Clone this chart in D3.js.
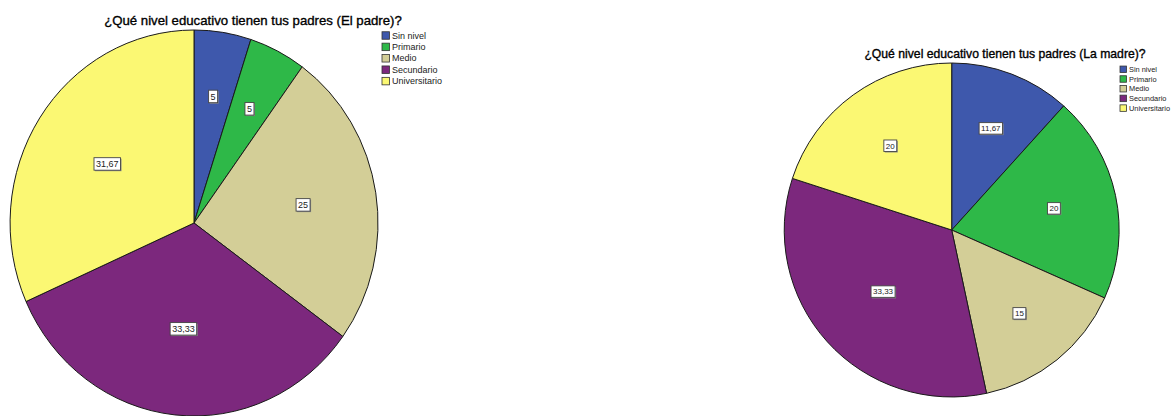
<!DOCTYPE html>
<html>
<head>
<meta charset="utf-8">
<script src="https://cdn.jsdelivr.net/npm/d3@7"></script>
<style>
  html, body { margin: 0; padding: 0; background: #fff; }
  svg { display: block; }
  text { font-family: "Liberation Sans", Arial, sans-serif; }
</style>
</head>
<body>
<svg id="chart" width="1172" height="416"></svg>
<script>
// ---- data ----
const categories = ["Sin nivel", "Primario", "Medio", "Secundario", "Universitario"];
const padreValues = [5, 5, 25, 33.33, 31.67];
const madreValues = [11.67, 20, 15, 33.33, 20];
const sliceColors = ["#3E58AC", "#2EB848", "#D3CE97", "#7C287D", "#FBF873"];
const padreTitle = "¿Qué nivel educativo tienen tus padres (El padre)?";
const madreTitle = "¿Qué nivel educativo tienen tus padres (La madre)?";

const locale = d3.formatLocale({decimal: ",", thousands: ".", grouping: [3], currency: ["", "€"]});
const fmt = locale.format(".4~g");
const color = d3.scaleOrdinal().domain(categories).range(sliceColors);

const svg = d3.select("#chart");
svg.append("rect").attr("width", 1172).attr("height", 416).attr("fill", "#fff");

function drawPie(cfg) {
  const data = categories.map((c, i) => ({cat: c, value: cfg.values[i]}));
  const pie = d3.pie().sort(null).value(d => d.value);
  const arcs = pie(data);
  const arc = d3.arc().innerRadius(0).outerRadius(1);

  const g = svg.append("g");
  // title
  g.append("text")
    .attr("x", cfg.titleX).attr("y", cfg.titleY)
    .attr("text-anchor", "middle")
    .attr("font-size", cfg.titleSize)
    .attr("fill", "#000").attr("stroke", "#000").attr("stroke-width", 0.35)
    .text(cfg.title);

  const pg = g.append("g")
    .attr("transform", `translate(${cfg.cx},${cfg.cy}) scale(${cfg.rx},${cfg.ry})`);
  pg.selectAll("path").data(arcs).join("path")
    .attr("d", arc)
    .attr("fill", d => color(d.data.cat))
    .attr("stroke", "#1a1a1a")
    .attr("stroke-width", 1)
    .attr("vector-effect", "non-scaling-stroke");

  // labels at area centroid of each sector
  const lg = g.append("g");
  arcs.forEach(d => {
    const theta = d.endAngle - d.startAngle;
    const mid = (d.startAngle + d.endAngle) / 2;
    const rf = 4 * Math.sin(theta / 2) / (3 * theta);
    const x = cfg.cx + Math.sin(mid) * rf * cfg.rx;
    const y = cfg.cy - Math.cos(mid) * rf * cfg.ry;
    const lab = lg.append("g").attr("transform", `translate(${x},${y})`);
    const t = lab.append("text")
      .attr("text-anchor", "middle")
      .attr("dy", "0.35em")
      .attr("font-size", cfg.labelSize)
      .attr("fill", "#222")
      .text(fmt(d.data.value));
    const w = t.node().getComputedTextLength() + 4;
    const h = cfg.labelSize + 3.5;
    lab.insert("rect", "text")
      .attr("x", -w / 2 + 1).attr("y", -h / 2 + 1)
      .attr("width", w).attr("height", h)
      .attr("fill", "#8a8a8a");
    lab.insert("rect", "text")
      .attr("x", -w / 2).attr("y", -h / 2)
      .attr("width", w).attr("height", h)
      .attr("fill", "#fff").attr("stroke", "#444").attr("stroke-width", 0.9);
  });

  // legend
  const leg = g.append("g");
  const rows = leg.selectAll("g").data(categories).join("g")
    .attr("transform", (d, i) => `translate(${cfg.legX},${cfg.legY + i * cfg.legStep})`);
  rows.append("rect")
    .attr("x", 0).attr("y", -cfg.sw / 2)
    .attr("width", cfg.sw).attr("height", cfg.sw)
    .attr("fill", d => color(d))
    .attr("stroke", "#333").attr("stroke-width", 0.8);
  rows.append("text")
    .attr("x", cfg.sw + 2.5).attr("dy", "0.35em")
    .attr("font-size", cfg.legSize)
    .attr("fill", "#222")
    .text(d => d);
}

drawPie({
  values: padreValues, title: padreTitle,
  titleX: 253, titleY: 25, titleSize: 13.2,
  cx: 194, cy: 223, rx: 184, ry: 193,
  labelSize: 9,
  legX: 382, legY: 35.5, legStep: 11.4, sw: 7.5, legSize: 9
});

drawPie({
  values: madreValues, title: madreTitle,
  titleX: 1005, titleY: 58, titleSize: 12.2,
  cx: 951.7, cy: 230, rx: 167.5, ry: 167,
  labelSize: 8,
  legX: 1120, legY: 69.3, legStep: 9.7, sw: 6.5, legSize: 7.4
});
</script>
</body>
</html>
